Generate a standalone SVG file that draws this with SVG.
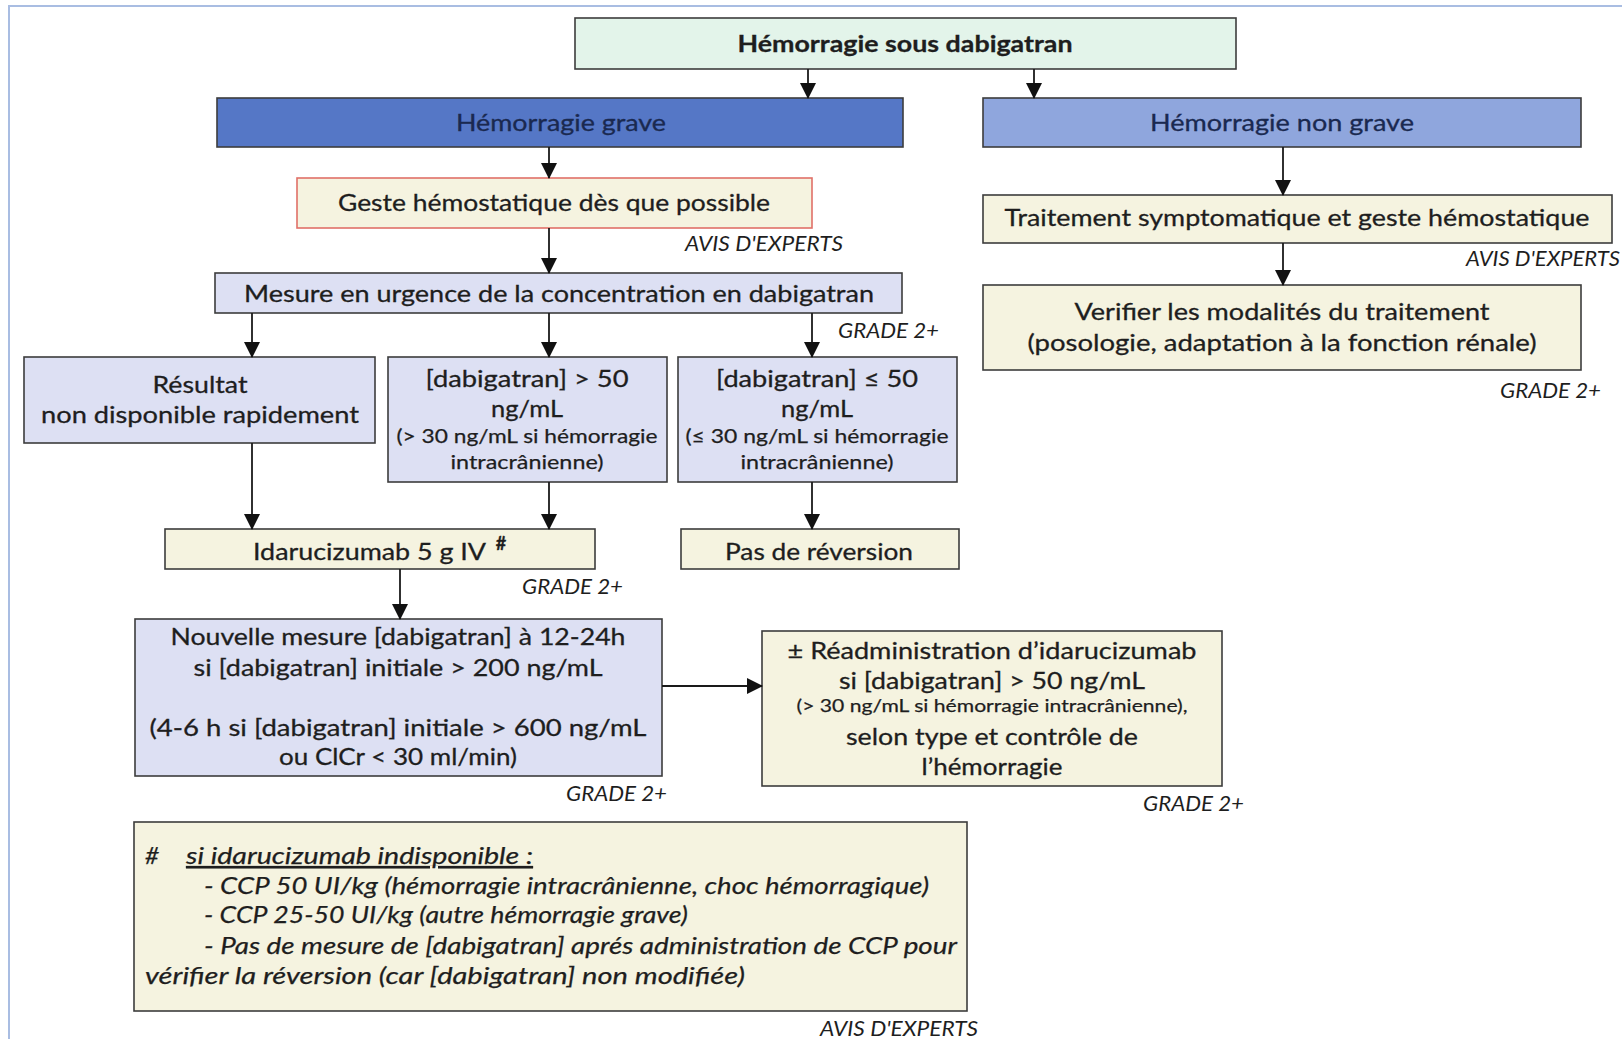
<svg xmlns="http://www.w3.org/2000/svg" width="1622" height="1039" viewBox="0 0 1622 1039">
  <style>
    .box { stroke: #3c3c3c; stroke-width: 1.6; }
    .mint { fill: #e3f4ea; }
    .dark { fill: #5577c6; }
    .mid { fill: #8fa6dd; }
    .lav { fill: #dde0f3; }
    .cream { fill: #f5f3e0; }
    .red { stroke: #e07068; }
    text { font-family: Lato, "Open Sans", sans-serif; fill: #1e1e1e; }
    .t { font-size: 24px; text-anchor: middle; stroke: #1e1e1e; stroke-width: 0.3; }
    .s { font-size: 20px; text-anchor: middle; stroke: #1e1e1e; stroke-width: 0.25; }
    .b { font-weight: bold; }
    .navy { fill: #1a2950; stroke: #1a2950; }
    .note { font-size: 21px; font-style: italic; text-anchor: end; }
    .foot { font-size: 24px; font-style: italic; stroke: #1e1e1e; stroke-width: 0.25; }
    .conn line { stroke: #1a1a1a; stroke-width: 1.8; marker-end: url(#arrow); }
  </style>
  <defs>
    <marker id="arrow" markerUnits="userSpaceOnUse" markerWidth="16" markerHeight="16" refX="15" refY="8" orient="auto">
      <path d="M0,0 L16,8 L0,16 Z" fill="#111"/>
    </marker>
  </defs>

  <rect x="0" y="0" width="1622" height="1039" fill="#ffffff"/>
  <!-- outer frame -->
  <rect x="9" y="6" width="1640" height="1060" fill="none" stroke="#a9bde2" stroke-width="2"/>

  <g id="n-top">
    <rect class="box mint" x="575" y="18" width="661" height="51"/>
    <text class="t b" x="905" y="52" style="font-size:23.7px" textLength="335" lengthAdjust="spacingAndGlyphs">Hémorragie sous dabigatran</text>
  </g>
  <g id="n-grave">
    <rect class="box dark" x="217" y="98" width="686" height="49"/>
    <text class="t navy" x="561" y="131" textLength="210" lengthAdjust="spacingAndGlyphs">Hémorragie grave</text>
  </g>
  <g id="n-nongrave">
    <rect class="box mid" x="983" y="98" width="598" height="49"/>
    <text class="t navy" x="1282" y="131" textLength="264" lengthAdjust="spacingAndGlyphs">Hémorragie non grave</text>
  </g>
  <g id="n-geste">
    <rect class="box cream red" x="297" y="178" width="515" height="50"/>
    <text class="t" x="554" y="211" textLength="432" lengthAdjust="spacingAndGlyphs">Geste hémostatique dès que possible</text>
    <text class="note" x="843" y="251" textLength="158" lengthAdjust="spacingAndGlyphs">AVIS D'EXPERTS</text>
  </g>
  <g id="n-mesure">
    <rect class="box lav" x="215" y="273" width="687" height="40"/>
    <text class="t" x="559" y="302" textLength="630" lengthAdjust="spacingAndGlyphs">Mesure en urgence de la concentration en dabigatran</text>
    <text class="note" x="939" y="338" textLength="101" lengthAdjust="spacingAndGlyphs">GRADE 2+</text>
  </g>
  <g id="n-resultat">
    <rect class="box lav" x="24" y="357" width="351" height="86"/>
    <text class="t" x="200" y="393" textLength="95" lengthAdjust="spacingAndGlyphs">Résultat</text>
    <text class="t" x="200" y="423" textLength="318" lengthAdjust="spacingAndGlyphs">non disponible rapidement</text>
  </g>
  <g id="n-sup50">
    <rect class="box lav" x="388" y="357" width="279" height="125"/>
    <text class="t" x="527" y="387" textLength="203" lengthAdjust="spacingAndGlyphs">[dabigatran] &gt; 50</text>
    <text class="t" x="527" y="417" textLength="72" lengthAdjust="spacingAndGlyphs">ng/mL</text>
    <text class="s" x="527" y="443" textLength="261" lengthAdjust="spacingAndGlyphs">(&gt; 30 ng/mL si hémorragie</text>
    <text class="s" x="527" y="469" textLength="153" lengthAdjust="spacingAndGlyphs">intracrânienne)</text>
  </g>
  <g id="n-inf50">
    <rect class="box lav" x="678" y="357" width="279" height="125"/>
    <text class="t" x="817" y="387" textLength="202" lengthAdjust="spacingAndGlyphs">[dabigatran] ≤ 50</text>
    <text class="t" x="817" y="417" textLength="72" lengthAdjust="spacingAndGlyphs">ng/mL</text>
    <text class="s" x="817" y="443" textLength="263" lengthAdjust="spacingAndGlyphs">(≤ 30 ng/mL si hémorragie</text>
    <text class="s" x="817" y="469" textLength="153" lengthAdjust="spacingAndGlyphs">intracrânienne)</text>
  </g>
  <g id="n-idaru">
    <rect class="box cream" x="165" y="529" width="430" height="40"/>
    <text class="t" x="253" y="560" style="text-anchor:start" textLength="233" lengthAdjust="spacingAndGlyphs">Idarucizumab 5 g IV</text>
    <text class="t b" x="501" y="550" style="font-size:18px">#</text>
    <text class="note" x="623" y="594" textLength="101" lengthAdjust="spacingAndGlyphs">GRADE 2+</text>
  </g>
  <g id="n-pas">
    <rect class="box cream" x="681" y="529" width="278" height="40"/>
    <text class="t" x="819" y="560" textLength="188" lengthAdjust="spacingAndGlyphs">Pas de réversion</text>
  </g>
  <g id="n-nouvelle">
    <rect class="box lav" x="135" y="619" width="527" height="157"/>
    <text class="t" x="398" y="645" textLength="455" lengthAdjust="spacingAndGlyphs">Nouvelle mesure [dabigatran] à 12-24h</text>
    <text class="t" x="398" y="676" textLength="409" lengthAdjust="spacingAndGlyphs">si [dabigatran] initiale &gt; 200 ng/mL</text>
    <text class="t" x="398" y="736" textLength="497" lengthAdjust="spacingAndGlyphs">(4-6 h si [dabigatran] initiale &gt; 600 ng/mL</text>
    <text class="t" x="398" y="765" textLength="238" lengthAdjust="spacingAndGlyphs">ou ClCr &lt; 30 ml/min)</text>
    <text class="note" x="667" y="801" textLength="101" lengthAdjust="spacingAndGlyphs">GRADE 2+</text>
  </g>
  <g id="n-readmin">
    <rect class="box cream" x="762" y="631" width="460" height="155"/>
    <text class="t" x="992" y="659" textLength="409" lengthAdjust="spacingAndGlyphs">± Réadministration d’idarucizumab</text>
    <text class="t" x="992" y="689" textLength="306" lengthAdjust="spacingAndGlyphs">si [dabigatran] &gt; 50 ng/mL</text>
    <text class="s" x="992" y="712" style="font-size:18px" textLength="391" lengthAdjust="spacingAndGlyphs">(&gt; 30 ng/mL si hémorragie intracrânienne),</text>
    <text class="t" x="992" y="745" textLength="292" lengthAdjust="spacingAndGlyphs">selon type et contrôle de</text>
    <text class="t" x="992" y="775" textLength="141" lengthAdjust="spacingAndGlyphs">l’hémorragie</text>
    <text class="note" x="1244" y="811" textLength="101" lengthAdjust="spacingAndGlyphs">GRADE 2+</text>
  </g>
  <g id="n-traitement">
    <rect class="box cream" x="983" y="195" width="629" height="48"/>
    <text class="t" x="1297" y="226" textLength="585" lengthAdjust="spacingAndGlyphs">Traitement symptomatique et geste hémostatique</text>
    <text class="note" x="1620" y="266" textLength="154" lengthAdjust="spacingAndGlyphs">AVIS D'EXPERTS</text>
  </g>
  <g id="n-verifier">
    <rect class="box cream" x="983" y="285" width="598" height="85"/>
    <text class="t" x="1282" y="320" textLength="415" lengthAdjust="spacingAndGlyphs">Verifier les modalités du traitement</text>
    <text class="t" x="1282" y="351" textLength="509" lengthAdjust="spacingAndGlyphs">(posologie, adaptation à la fonction rénale)</text>
    <text class="note" x="1601" y="398" textLength="101" lengthAdjust="spacingAndGlyphs">GRADE 2+</text>
  </g>
  <g id="n-footnote">
    <rect class="box cream" x="134" y="822" width="833" height="189"/>
    <text class="foot" x="145" y="864">#</text>
    <text class="foot" x="186" y="864" text-decoration="underline" textLength="347" lengthAdjust="spacingAndGlyphs">si idarucizumab indisponible :</text>
    <text class="foot" x="204" y="894" textLength="725" lengthAdjust="spacingAndGlyphs">- CCP 50 UI/kg (hémorragie intracrânienne, choc hémorragique)</text>
    <text class="foot" x="204" y="923" textLength="484" lengthAdjust="spacingAndGlyphs">- CCP 25-50 UI/kg (autre hémorragie grave)</text>
    <text class="foot" x="204" y="954" textLength="753" lengthAdjust="spacingAndGlyphs">- Pas de mesure de [dabigatran] aprés administration de CCP pour</text>
    <text class="foot" x="145" y="984" textLength="600" lengthAdjust="spacingAndGlyphs">vérifier la réversion (car [dabigatran] non modifiée)</text>
    <text class="note" x="978" y="1036" textLength="158" lengthAdjust="spacingAndGlyphs">AVIS D'EXPERTS</text>
  </g>

  <g id="connectors" class="conn">
    <line x1="808" y1="69" x2="808" y2="98"/>
    <line x1="1034" y1="69" x2="1034" y2="98"/>
    <line x1="549" y1="147" x2="549" y2="178"/>
    <line x1="549" y1="228" x2="549" y2="273"/>
    <line x1="252" y1="313" x2="252" y2="357"/>
    <line x1="549" y1="313" x2="549" y2="357"/>
    <line x1="812" y1="313" x2="812" y2="357"/>
    <line x1="252" y1="443" x2="252" y2="529"/>
    <line x1="549" y1="482" x2="549" y2="529"/>
    <line x1="812" y1="482" x2="812" y2="529"/>
    <line x1="400" y1="569" x2="400" y2="619"/>
    <line x1="662" y1="686" x2="762" y2="686"/>
    <line x1="1283" y1="147" x2="1283" y2="195"/>
    <line x1="1283" y1="243" x2="1283" y2="285"/>
  </g>
</svg>
